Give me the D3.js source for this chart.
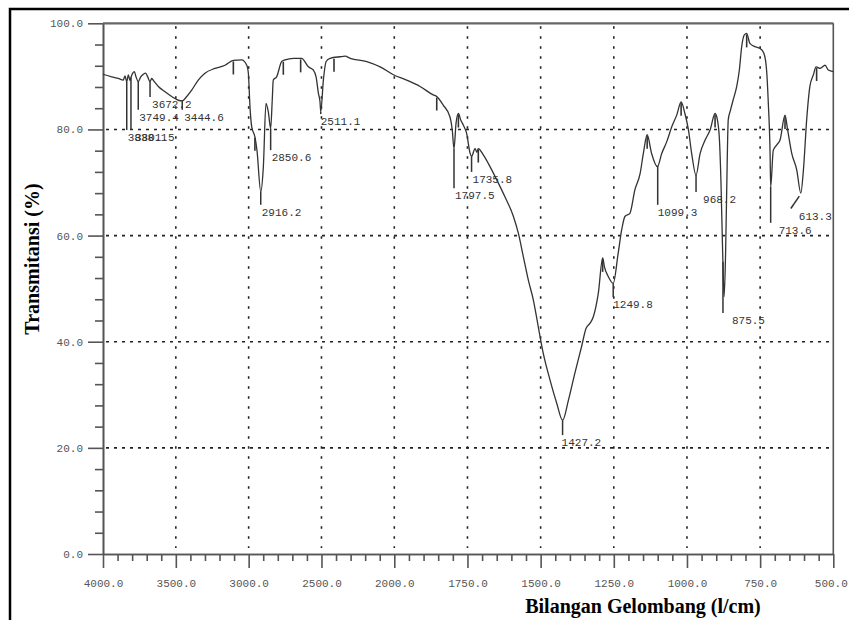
<!DOCTYPE html>
<html><head><meta charset="utf-8">
<script src="https://cdn.jsdelivr.net/npm/d3@7"></script>
<style>
html,body{margin:0;padding:0;background:#fff;}
svg{display:block;}
</style></head><body>
<svg id="chart" width="849" height="620"></svg>
<script>
// ---------- DATA ----------
const wavenumber = [4000,3940,3895,3861,3849,3837,3826,3815,3808,3796,
3785,3773,3758,3741,3723,3707,3693,3677,3666,3648,
3620,3574,3528,3483,3456,3425,3391,3346,3300,3231,
3162,3105,3048,3013,3002,2991,2979,2957,2943,2917,
2899,2881,2865,2849,2838,2831,2808,2773,2750,2693,
2636,2590,2556,2537,2521,2510,2505,2487,2468,2441,
2372,2338,2303,2189,2097,2006,1958,1912,1867,1855,
1833,1810,1802,1796,1789,1781,1773,1764,1753,1741,
1736,1724,1718,1713,1696,1673,1650,1622,1593,1576,
1559,1542,1525,1508,1491,1468,1445,1425,1405,1383,
1360,1345,1331,1320,1303,1288,1282,1269,1252,1235,
1223,1212,1195,1178,1160,1149,1136,1121,1101,1086,
1069,1052,1035,1020,1007,995,984,969,955,938,
921,904,896,889,884,878,873,868,862,859,
851,842,830,821,813,804,796,785,768,751,
737,728,722,716,714,705,693,682,665,656,
642,625,611,602,591,580,568,559,545,528,
517,500];
const transmittance = [90.4,89.9,89.6,89.3,90.1,89.0,90.3,89.2,89.8,90.6,
90.9,89.9,89.0,89.9,90.4,90.6,89.9,89.0,89.6,89.0,
88.1,87.1,86.2,85.5,85.4,86.2,87.4,89.3,90.6,91.5,
92.1,93.0,93.1,92.1,90.6,84.3,80.5,78.6,76.1,68.3,
73.0,84.9,83.3,80.2,85.5,89.3,89.9,92.8,93.1,93.4,
93.4,91.8,91.2,89.9,86.8,85.2,83.3,89.3,92.8,93.4,
93.7,93.8,93.4,92.8,91.8,90.3,89.3,88.1,86.5,86.2,
84.6,82.4,79.9,76.4,81.2,83.0,81.8,80.8,79.3,75.5,
74.9,76.4,75.7,76.4,75.2,73.0,70.5,67.3,63.6,60.4,
56.0,51.6,47.9,42.8,37.8,32.8,28.4,25.2,29.0,34.1,
39.1,42.5,43.5,44.7,49.1,55.8,54.1,52.3,51.0,56.7,
61.1,63.6,64.2,68.6,71.7,75.5,79.0,75.5,73.0,75.5,
77.7,80.5,82.7,85.2,83.0,79.9,75.5,71.4,75.5,78.0,
79.9,83.0,81.8,78.0,70.5,56.7,48.5,56.7,75.5,81.8,
83.7,85.6,88.1,91.2,95.6,97.8,98.1,96.2,95.6,95.3,
94.3,91.2,84.9,75.5,69.2,76.1,77.1,78.0,82.7,79.9,
75.5,72.4,68.0,72.4,81.8,88.1,90.3,91.8,91.5,92.1,
91.2,90.9];

const xTickValues = [4000,3500,3000,2500,2000,1750,1500,1250,1000,750,500];
const yTickValues = [0,20,40,60,80,100];

const peakWavenumber = [3837,3808,3758,3677,3456,2917,2849,2505,1796,1736,1425,1252,1100,969,877,714,611];
const peakLabel = ["3838.1","3801.5","3749.4","3672.2","3444.6","2916.2","2850.6","2511.1","1797.5","1735.8","1427.2","1249.8","1099.3","968.2","875.5","713.6","613.3"];
const peakLabelT = [79.9,79.9,83.7,86.1,83.7,65.8,76.1,82.9,68.9,72.0,22.4,48.4,65.8,68.2,45.4,62.4,65.1];

const markWavenumber = [3105,2957,2762,2643,2414,1855,1781,1713,1288,1136,1020,904,796,665,557];

// ---------- LAYOUT (not data) ----------
const labelDx = [1,4,1,2,2,1,1,0,1,1,-1,0,0,7,9,8,-2];
const labelSlant = [0,0,0,0,0,0,0,0,0,0,0,0,0,0,0,0,-10];

// ---------- DRAW ----------
const svg = d3.select("#chart");
const x = d3.scaleLinear().domain([4000,2000,500]).range([103,394.3,833.3]);
const y = d3.scaleLinear().domain([0,100]).range([554,23.3]);

const mono = "'Liberation Mono','DejaVu Sans Mono',monospace";
const serif = "'Liberation Serif','Times New Roman',serif";

// outer frame
svg.append("rect").attr("x",10).attr("y",9).attr("width",900).attr("height",700)
  .attr("fill","none").attr("stroke","#000").attr("stroke-width",2.5);

// grid
const xGrid = xTickValues.filter(d => d !== 4000 && d !== 500);
const yGrid = yTickValues.filter(d => d !== 0 && d !== 100);
svg.append("g").selectAll("line").data(xGrid).join("line")
  .attr("x1",d=>x(d)).attr("x2",d=>x(d)).attr("y1",y(100)+3).attr("y2",y(0)-6)
  .attr("stroke","#222").attr("stroke-width",1.6).attr("stroke-dasharray","2.5,7.5");
svg.append("g").selectAll("line").data(yGrid).join("line")
  .attr("x1",x(4000)+3).attr("x2",x(500)).attr("y1",d=>y(d)).attr("y2",d=>y(d))
  .attr("stroke","#222").attr("stroke-width",1.6).attr("stroke-dasharray","3,5");

// axes
function styleAxis(sel){
  sel.selectAll("path.domain").attr("stroke","#555").attr("stroke-width",1.6);
  sel.selectAll(".tick line").attr("stroke","#555").attr("stroke-width",1.6);
  sel.selectAll(".tick text").attr("font-family",mono).attr("font-size",11).attr("fill","#555");
}
const xMinor = d3.range(4000,2000,-100).concat(d3.range(2000,499,-50)).filter(d=>!xTickValues.includes(d));
const yMinor = d3.range(0,101,4).filter(d=>d%20!==0);

svg.append("g").attr("transform",`translate(0,${y(0)})`)
  .call(d3.axisBottom(x).tickValues(xMinor).tickFormat("").tickSize(7).tickSizeOuter(0)).call(styleAxis);
const xAxisG = svg.append("g").attr("transform",`translate(0,${y(0)})`)
  .call(d3.axisBottom(x).tickValues(xTickValues).tickFormat(d3.format(".1f")).tickSize(14).tickPadding(11).tickSizeOuter(0)).call(styleAxis);
xAxisG.selectAll(".tick text").filter(d=>d===500).attr("dx",-2.5);
svg.append("g").attr("transform",`translate(${x(4000)},0)`)
  .call(d3.axisLeft(y).tickValues(yMinor).tickFormat("").tickSize(8).tickSizeOuter(0)).call(styleAxis);
svg.append("g").attr("transform",`translate(${x(4000)},0)`)
  .call(d3.axisLeft(y).tickValues(yTickValues).tickFormat(d3.format(".1f")).tickSize(15).tickPadding(5).tickSizeOuter(0)).call(styleAxis);

// top & right borders of plot
svg.append("line").attr("x1",x(4000)).attr("x2",x(500)).attr("y1",y(100)).attr("y2",y(100))
  .attr("stroke","#666").attr("stroke-width",2.2);
svg.append("line").attr("x1",x(500)).attr("x2",x(500)).attr("y1",y(100)).attr("y2",y(0))
  .attr("stroke","#555").attr("stroke-width",1.6);

// spectrum
const pts = wavenumber.map((w,i)=>[w,transmittance[i]]);
svg.append("path").datum(pts)
  .attr("d", d3.line().x(d=>x(d[0])).y(d=>y(d[1])).curve(d3.curveMonotoneX))
  .attr("fill","none").attr("stroke","#333").attr("stroke-width",1.3);

function tAt(w){
  for(let i=0;i<wavenumber.length-1;i++){
    const a=wavenumber[i], b=wavenumber[i+1];
    if(a>=w && w>=b){ const f=(a-w)/(a-b); return transmittance[i]+f*(transmittance[i+1]-transmittance[i]); }
  }
  return transmittance[transmittance.length-1];
}

// unlabeled marks
svg.append("g").selectAll("line").data(markWavenumber).join("line")
  .attr("x1",d=>x(d)).attr("x2",d=>x(d))
  .attr("y1",d=>y(tAt(d))+1).attr("y2",d=>y(tAt(d))+14)
  .attr("stroke","#333").attr("stroke-width",1.6);

// labeled peaks
const pg = svg.append("g");
peakWavenumber.forEach((w,i)=>{
  const px = x(w), cy = y(tAt(w)), by = y(peakLabelT[i]);
  const s = labelSlant[i];
  pg.append("line")
    .attr("x1", s ? px-1.5 : px).attr("y1", s ? cy+3 : cy)
    .attr("x2", px + s).attr("y2", by)
    .attr("stroke","#333").attr("stroke-width",1.5);
  pg.append("text").attr("x", px + s + labelDx[i] + (s?10:0)).attr("y", by+11)
    .attr("font-family",mono).attr("font-size",11).attr("fill","#333")
    .text(peakLabel[i]);
});

// titles
svg.append("text").attr("x",643).attr("y",613).attr("text-anchor","middle")
  .attr("font-family",serif).attr("font-weight","bold").attr("font-size",20).attr("fill","#000")
  .text("Bilangan Gelombang (l/cm)");
svg.append("text").attr("transform","translate(39,259) rotate(-90)").attr("text-anchor","middle")
  .attr("font-family",serif).attr("font-weight","bold").attr("font-size",20).attr("fill","#000")
  .text("Transmitansi (%)");
</script>
</body></html>
